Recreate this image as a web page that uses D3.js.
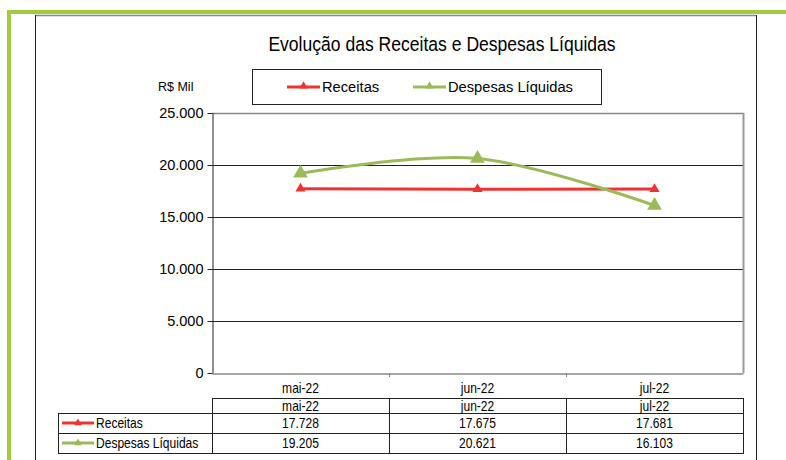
<!DOCTYPE html>
<html><head><meta charset="utf-8">
<script src="https://cdn.jsdelivr.net/npm/d3@7"></script>
<style>
body{margin:0;background:#fff;}
text{font-family:"Liberation Sans",Arial,sans-serif;fill:#000;}
</style></head>
<body>
<svg id="c" width="786" height="460"></svg>
<script>
const categories = ["mai-22","jun-22","jul-22"];
const receitas = [17728, 17675, 17681];
const despesas = [19205, 20621, 16103];
const yTicks = [0, 5000, 10000, 15000, 20000, 25000];
const seriesNames = ["Receitas","Despesas Líquidas"];
const seriesColors = ["#ee3333","#9bbb59"];

const svg = d3.select("#c");
const fmt = v => d3.format(",")(v).replace(/,/g,".");

function ntext(sel, x, y, anchor, size, txt, sx){
  sel.append("text").attr("transform",`translate(${x},${y}) scale(${sx||0.86},1)`)
    .attr("text-anchor",anchor).attr("font-size",size).text(txt);
}

// green frame
svg.append("line").attr("x1",7).attr("x2",786).attr("y1",12).attr("y2",12).attr("stroke","#a4c93c").attr("stroke-width",4);
svg.append("line").attr("x1",9).attr("x2",9).attr("y1",10).attr("y2",460).attr("stroke","#a4c93c").attr("stroke-width",4);

// chart border
svg.append("line").attr("x1",35).attr("x2",756).attr("y1",15.5).attr("y2",15.5).attr("stroke","#888").attr("stroke-width",1.5);
svg.append("line").attr("x1",35.5).attr("x2",35.5).attr("y1",15).attr("y2",460).attr("stroke","#222").attr("stroke-width",1);
svg.append("line").attr("x1",756.5).attr("x2",756.5).attr("y1",15).attr("y2",460).attr("stroke","#222").attr("stroke-width",1);

// title
ntext(svg, 442, 51, "middle", 19.5, "Evolução das Receitas e Despesas Líquidas", 0.9);

// unit label
svg.append("text").attr("x",158).attr("y",91).attr("font-size",12.5).text("R$ Mil");

// legend
const lg = svg.append("g");
lg.append("rect").attr("x",252.5).attr("y",69.5).attr("width",349).attr("height",35).attr("fill","#fff").attr("stroke","#222");
const legendX = [287, 413];
seriesNames.forEach((n,i)=>{
  const g = lg.append("g");
  g.append("line").attr("x1",legendX[i]).attr("x2",legendX[i]+33).attr("y1",87).attr("y2",87).attr("stroke",seriesColors[i]).attr("stroke-width",3);
  g.append("path").attr("d",d3.symbol(d3.symbolTriangle, 30)()).attr("transform",`translate(${legendX[i]+16.5},86)`).attr("fill",seriesColors[i]);
  g.append("text").attr("x",legendX[i]+35).attr("y",92).attr("font-size",14.7).text(n);
});

// plot
const L=212, R=743, T=113, B=373;
const x = d3.scaleBand().domain(categories).range([L,R]);
const y = d3.scaleLinear().domain([0,25000]).range([B,T]);
const cx = c => x(c)+x.bandwidth()/2;

svg.append("g").selectAll("line").data(yTicks.filter(d=>d>0)).join("line")
  .attr("x1",L).attr("x2",R).attr("y1",d=>Math.round(y(d))+0.5).attr("y2",d=>Math.round(y(d))+0.5)
  .attr("stroke","#222").attr("stroke-width",1);
svg.append("line").attr("x1",L).attr("x2",R+1).attr("y1",T+0.5).attr("y2",T+0.5).attr("stroke","#888").attr("stroke-width",1.5);
svg.append("line").attr("x1",R+0.5).attr("x2",R+0.5).attr("y1",T).attr("y2",B).attr("stroke","#999").attr("stroke-width",2);

// y axis
const yAxis = svg.append("g").attr("transform",`translate(${L+0.5},0)`)
  .call(d3.axisLeft(y).tickValues(yTicks).tickSize(5).tickSizeOuter(0).tickFormat(fmt));
yAxis.attr("font-size",14.5).attr("font-family","Liberation Sans, Arial");
yAxis.select(".domain").attr("stroke","#222");
yAxis.selectAll(".tick line").attr("stroke","#222");
yAxis.selectAll("text").attr("fill","#000").attr("dx",-1);

// x axis
const xAxis = svg.append("g").attr("transform",`translate(0,${B+0.5})`)
  .call(d3.axisBottom(x).tickSize(0).tickSizeOuter(0).tickFormat(""));
xAxis.select(".domain").attr("stroke","#888").attr("stroke-width",1.5);
svg.append("g").selectAll("line").data(categories.slice(1)).join("line")
  .attr("x1",d=>Math.round(x(d))+0.5).attr("x2",d=>Math.round(x(d))+0.5).attr("y1",B).attr("y2",B+4).attr("stroke","#888");
const catG = svg.append("g");
categories.forEach(c=>ntext(catG, cx(c), 393, "middle", 14, c));

// lines
const data = [receitas, despesas];
const curves = [d3.curveLinear, d3.curveCardinal.tension(0)];
const mSize = [45, 95];
data.forEach((vals,i)=>{
  const line = d3.line().x((d,j)=>cx(categories[j])).y(d=>y(d)).curve(curves[i]);
  svg.append("path").datum(vals).attr("d",line).attr("fill","none").attr("stroke",seriesColors[i]).attr("stroke-width",3);
  svg.append("g").selectAll("path").data(vals).join("path")
    .attr("d",d3.symbol(d3.symbolTriangle, mSize[i])())
    .attr("transform",(d,j)=>`translate(${cx(categories[j])},${y(d)})`)
    .attr("fill",seriesColors[i]);
});

// data table
const rowY = [398, 413, 433, 453];
const tL = 58;
const tg = svg.append("g").attr("stroke","#222").attr("fill","none");
tg.append("rect").attr("x",L+0.5).attr("y",rowY[0]+0.5).attr("width",R-L).attr("height",rowY[1]-rowY[0]);
tg.append("rect").attr("x",tL+0.5).attr("y",rowY[1]+0.5).attr("width",R-tL).attr("height",rowY[3]-rowY[1]);
tg.append("line").attr("x1",tL).attr("x2",R).attr("y1",rowY[2]+0.5).attr("y2",rowY[2]+0.5);
tg.append("line").attr("x1",L+0.5).attr("x2",L+0.5).attr("y1",rowY[1]).attr("y2",rowY[3]);
categories.slice(1).forEach(c=>{
  tg.append("line").attr("x1",Math.round(x(c))+0.5).attr("x2",Math.round(x(c))+0.5).attr("y1",rowY[0]).attr("y2",rowY[3]);
});
const tt = svg.append("g");
categories.forEach(c=>ntext(tt, cx(c), rowY[0]+13, "middle", 14, c));
data.forEach((vals,i)=>{
  const ry = rowY[i+1];
  svg.append("line").attr("x1",tL+4).attr("x2",tL+36).attr("y1",ry+10).attr("y2",ry+10).attr("stroke",seriesColors[i]).attr("stroke-width",3);
  svg.append("path").attr("d",d3.symbol(d3.symbolTriangle, 25)()).attr("transform",`translate(${tL+20},${ry+10})`).attr("fill",seriesColors[i]);
  ntext(tt, tL+38, ry+15, "start", 14, seriesNames[i]);
  vals.forEach((v,j)=>ntext(tt, cx(categories[j]), ry+15, "middle", 14, fmt(v)));
});
</script>
</body></html>
